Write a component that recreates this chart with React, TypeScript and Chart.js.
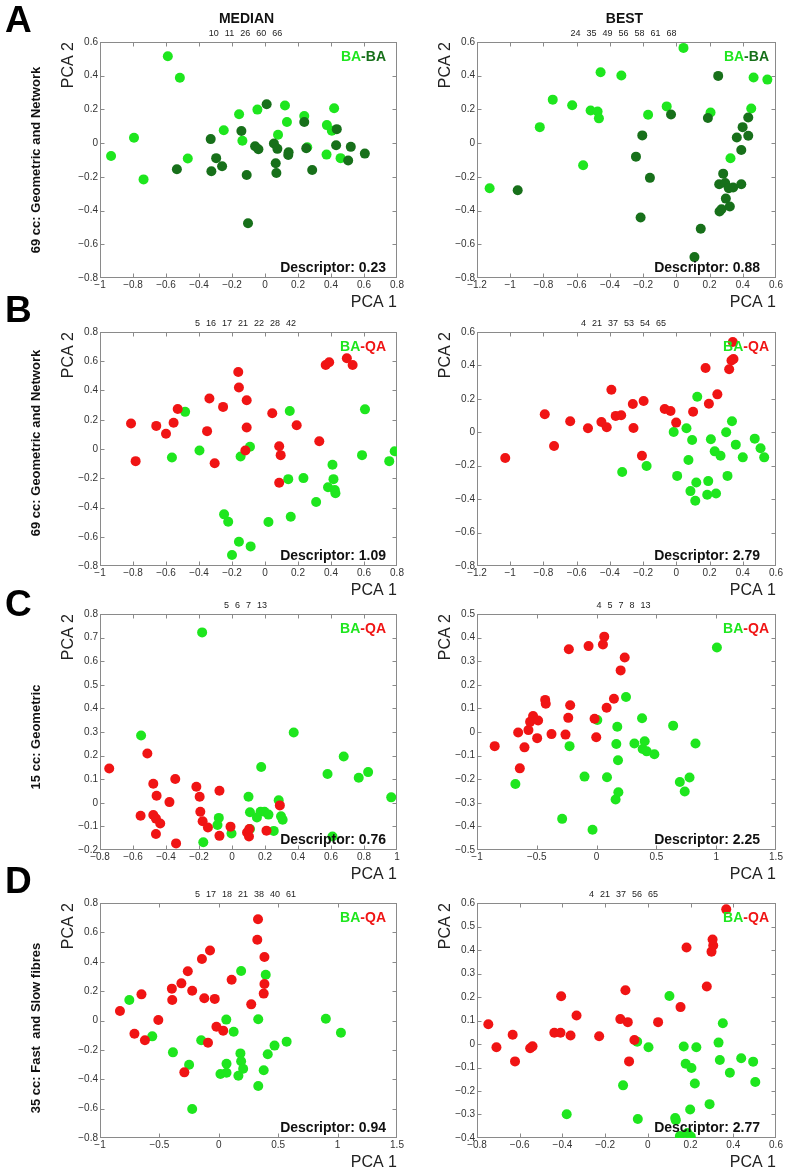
import React, { useEffect, useRef } from "react";
import { Chart, registerables } from "chart.js";
Chart.register(...registerables);

type P = [number, number];

const FONT = "'Liberation Sans', Arial, Helvetica, sans-serif";
Chart.defaults.font.family = FONT;

const LIME = "#1ee61e";
const DARK = "#17701a";
const RED = "#f01414";

// ---------- DATA ----------
// Row A (69 cc: Geometric and Network) – BA vs BA
const A_MED_LIGHT: P[] = [[-0.933,-0.076],[-0.794,0.032],[-0.736,-0.215],[-0.589,0.515],[-0.516,0.388],[-0.468,-0.091],[-0.25,0.076],[-0.157,0.171],[-0.137,0.014],[-0.046,0.199],[0.079,0.05],[0.121,0.223],[0.133,0.125],[0.238,0.161],[0.256,-0.024],[0.375,0.107],[0.373,-0.068],[0.419,0.207],[0.405,0.074],[0.458,-0.089]];
const A_MED_DARK: P[] = [[-0.534,-0.155],[-0.329,0.024],[-0.325,-0.167],[-0.296,-0.089],[-0.26,-0.137],[-0.143,0.072],[-0.111,-0.189],[-0.103,-0.475],[-0.06,-0.018],[-0.04,-0.036],[0.01,0.231],[0.054,-0.002],[0.075,-0.034],[0.065,-0.119],[0.069,-0.177],[0.143,-0.054],[0.141,-0.07],[0.238,0.125],[0.25,-0.03],[0.286,-0.159],[0.435,0.083],[0.431,-0.012],[0.52,-0.022],[0.504,-0.103],[0.605,-0.062]];
const A_BEST_LIGHT: P[] = [[-1.124,-0.268],[-0.822,0.095],[-0.744,0.258],[-0.627,0.225],[-0.561,-0.131],[-0.516,0.194],[-0.474,0.188],[-0.466,0.147],[-0.456,0.421],[-0.331,0.401],[-0.17,0.168],[-0.058,0.218],[0.043,0.565],[0.206,0.182],[0.326,-0.09],[0.451,0.206],[0.465,0.389],[0.548,0.377]];
const A_BEST_DARK: P[] = [[-0.955,-0.279],[-0.243,-0.08],[-0.205,0.046],[-0.159,-0.206],[-0.215,-0.441],[-0.032,0.17],[0.109,-0.676],[0.147,-0.508],[0.19,0.149],[0.252,0.399],[0.258,-0.244],[0.26,-0.405],[0.272,-0.392],[0.282,-0.181],[0.294,-0.236],[0.298,-0.329],[0.316,-0.267],[0.322,-0.376],[0.342,-0.263],[0.364,0.034],[0.391,-0.041],[0.391,-0.244],[0.399,0.095],[0.433,0.152],[0.433,0.044]];

// Row B (69 cc: Geometric and Network) – BA vs QA
const B_MED_RED: P[] = [[-0.812,0.174],[-0.784,-0.083],[-0.659,0.158],[-0.6,0.104],[-0.554,0.179],[-0.529,0.274],[-0.351,0.122],[-0.337,0.345],[-0.305,-0.097],[-0.254,0.288],[-0.162,0.527],[-0.158,0.42],[-0.111,0.333],[-0.111,0.147],[-0.119,-0.01],[0.044,0.245],[0.086,0.019],[0.095,-0.042],[0.086,-0.231],[0.192,0.163],[0.329,0.053],[0.368,0.574],[0.389,0.593],[0.496,0.62],[0.531,0.574]];
const B_MED_GREEN: P[] = [[-0.564,-0.058],[-0.484,0.254],[-0.397,-0.01],[-0.248,-0.447],[-0.223,-0.497],[-0.2,-0.725],[-0.158,-0.634],[-0.148,-0.051],[-0.091,0.015],[-0.087,-0.666],[0.021,-0.499],[0.141,-0.206],[0.15,0.26],[0.156,-0.463],[0.233,-0.199],[0.31,-0.363],[0.382,-0.261],[0.409,-0.108],[0.415,-0.206],[0.423,-0.281],[0.427,-0.302],[0.588,-0.042],[0.606,0.271],[0.753,-0.083],[0.786,-0.015]];
const B_BEST_RED: P[] = [[-1.03,-0.154],[-0.792,0.108],[-0.736,-0.082],[-0.639,0.066],[-0.532,0.024],[-0.451,0.062],[-0.419,0.03],[-0.391,0.255],[-0.365,0.098],[-0.332,0.102],[-0.262,0.169],[-0.258,0.026],[-0.207,-0.14],[-0.197,0.187],[-0.07,0.139],[-0.035,0.127],[-0.001,0.058],[0.101,0.123],[0.176,0.385],[0.196,0.171],[0.247,0.227],[0.318,0.377],[0.332,0.43],[0.344,0.438],[0.34,0.54]];
const B_BEST_GREEN: P[] = [[-0.326,-0.238],[-0.179,-0.202],[-0.016,0.002],[0.005,-0.261],[0.061,0.024],[0.073,-0.166],[0.085,-0.352],[0.095,-0.046],[0.114,-0.41],[0.12,-0.3],[0.126,0.213],[0.186,-0.374],[0.192,-0.292],[0.208,-0.042],[0.231,-0.114],[0.239,-0.366],[0.266,-0.14],[0.3,0],[0.308,-0.261],[0.335,0.066],[0.358,-0.074],[0.4,-0.15],[0.472,-0.038],[0.507,-0.096],[0.529,-0.15]];

// Row C (15 cc: Geometric) – BA vs QA
const C_MED_RED: P[] = [[-0.744,0.145],[-0.554,-0.055],[-0.513,0.209],[-0.477,0.081],[-0.477,-0.052],[-0.461,-0.067],[-0.457,0.03],[-0.461,-0.132],[-0.435,-0.088],[-0.379,0.003],[-0.344,0.101],[-0.339,-0.172],[-0.216,0.068],[-0.196,0.026],[-0.192,-0.038],[-0.178,-0.078],[-0.146,-0.105],[-0.076,0.051],[-0.076,-0.14],[-0.009,-0.101],[0.091,-0.126],[0.103,-0.143],[0.105,-0.111],[0.209,-0.118],[0.29,-0.011]];
const C_MED_GREEN: P[] = [[-0.551,0.285],[-0.181,0.722],[-0.174,-0.167],[-0.088,-0.094],[-0.08,-0.064],[-0.003,-0.13],[0.1,0.026],[0.109,-0.04],[0.109,-0.111],[0.151,-0.062],[0.173,-0.038],[0.177,0.152],[0.197,-0.038],[0.221,-0.05],[0.253,-0.119],[0.283,0.011],[0.297,-0.057],[0.307,-0.072],[0.374,0.298],[0.579,0.122],[0.609,-0.143],[0.677,0.196],[0.768,0.106],[0.825,0.13],[0.965,0.023]];
const C_BEST_RED: P[] = [[-0.852,-0.06],[-0.656,-0.002],[-0.642,-0.154],[-0.603,-0.065],[-0.57,0.008],[-0.556,0.043],[-0.531,0.068],[-0.497,-0.026],[-0.489,0.049],[-0.43,0.136],[-0.425,0.12],[-0.377,-0.009],[-0.26,-0.011],[-0.237,0.06],[-0.232,0.351],[-0.221,0.113],[-0.067,0.364],[-0.017,0.056],[-0.003,-0.022],[0.053,0.371],[0.064,0.404],[0.084,0.103],[0.145,0.141],[0.201,0.261],[0.235,0.316]];
const C_BEST_GREEN: P[] = [[-0.679,-0.22],[-0.288,-0.368],[-0.226,-0.06],[-0.101,-0.189],[-0.034,-0.414],[0.006,0.051],[0.087,-0.192],[0.159,-0.286],[0.165,-0.051],[0.173,0.022],[0.179,-0.12],[0.182,-0.255],[0.246,0.148],[0.316,-0.049],[0.38,0.058],[0.385,-0.072],[0.402,-0.039],[0.419,-0.082],[0.483,-0.094],[0.64,0.027],[0.696,-0.212],[0.737,-0.252],[0.777,-0.193],[0.827,-0.049],[1.006,0.358]];

// Row D (35 cc: Fast and Slow fibres) – BA vs QA
const D_MED_RED: P[] = [[-0.832,0.065],[-0.71,-0.09],[-0.651,0.178],[-0.622,-0.135],[-0.509,0.003],[-0.395,0.217],[-0.392,0.14],[-0.315,0.253],[-0.29,-0.353],[-0.261,0.335],[-0.224,0.203],[-0.142,0.419],[-0.122,0.151],[-0.091,-0.151],[-0.074,0.476],[-0.034,0.147],[-0.02,-0.042],[0.037,-0.069],[0.108,0.278],[0.273,0.11],[0.324,0.55],[0.33,0.689],[0.378,0.183],[0.384,0.248],[0.384,0.432]];
const D_MED_GREEN: P[] = [[-0.753,0.14],[-0.56,-0.108],[-0.386,-0.217],[-0.25,-0.301],[-0.224,-0.603],[-0.148,-0.135],[0.014,-0.364],[0.063,0.006],[0.065,-0.294],[0.065,-0.356],[0.125,-0.076],[0.165,-0.376],[0.182,-0.224],[0.188,0.337],[0.188,-0.278],[0.205,-0.328],[0.332,0.008],[0.332,-0.446],[0.378,-0.339],[0.395,0.312],[0.412,-0.23],[0.469,-0.171],[0.571,-0.144],[0.901,0.012],[1.028,-0.083]];
const D_BEST_RED: P[] = [[-0.747,0.084],[-0.709,-0.014],[-0.633,0.039],[-0.622,-0.074],[-0.551,-0.018],[-0.54,-0.01],[-0.438,0.048],[-0.409,0.048],[-0.406,0.203],[-0.362,0.036],[-0.334,0.121],[-0.228,0.033],[-0.129,0.106],[-0.105,0.229],[-0.094,0.093],[-0.088,-0.074],[-0.063,0.017],[0.048,0.093],[0.153,0.157],[0.181,0.411],[0.276,0.245],[0.298,0.393],[0.306,0.419],[0.303,0.445],[0.367,0.573]];
const D_BEST_GREEN: P[] = [[-0.38,-0.299],[-0.116,-0.176],[-0.05,0.01],[-0.047,-0.319],[0.003,-0.014],[0.101,0.204],[0.128,-0.315],[0.131,-0.324],[0.15,-0.392],[0.168,-0.011],[0.177,-0.084],[0.185,-0.379],[0.198,-0.279],[0.201,-0.394],[0.204,-0.102],[0.22,-0.168],[0.227,-0.014],[0.289,-0.256],[0.331,0.006],[0.337,-0.068],[0.351,0.088],[0.384,-0.122],[0.437,-0.061],[0.493,-0.075],[0.503,-0.162]];

// Top-of-plot index labels
const A_MED_IDS = ["10", "11", "26", "60", "66"];
const A_BEST_IDS = ["24", "35", "49", "56", "58", "61", "68"];
const B_MED_IDS = ["5", "16", "17", "21", "22", "28", "42"];
const B_BEST_IDS = ["4", "21", "37", "53", "54", "65"];
const C_MED_IDS = ["5", "6", "7", "13"];
const C_BEST_IDS = ["4", "5", "7", "8", "13"];
const D_MED_IDS = ["5", "17", "18", "21", "38", "40", "61"];
const D_BEST_IDS = ["4", "21", "37", "56", "65"];

// Descriptor values
const DESCRIPTORS = ["0.23", "0.88", "1.09", "2.79", "0.76", "2.25", "0.94", "2.77"];

// Axis ranges [min, max, step]
const X_RANGES: [number, number, number][] = [
  [-1, 0.8, 0.2], [-1.2, 0.6, 0.2],
  [-1, 0.8, 0.2], [-1.2, 0.6, 0.2],
  [-0.8, 1, 0.2], [-1, 1.5, 0.5],
  [-1, 1.5, 0.5], [-0.8, 0.6, 0.2],
];
const Y_RANGES: [number, number, number][] = [
  [-0.8, 0.6, 0.2], [-0.8, 0.6, 0.2],
  [-0.8, 0.8, 0.2], [-0.8, 0.6, 0.2],
  [-0.2, 0.8, 0.1], [-0.5, 0.5, 0.1],
  [-0.8, 0.8, 0.2], [-0.4, 0.6, 0.1],
];

const ROW_LETTERS = ["A", "B", "C", "D"];
const ROW_TITLES = [
  "69 cc: Geometric and Network",
  "69 cc: Geometric and Network",
  "15 cc: Geometric",
  "35 cc: Fast  and Slow fibres",
];
const COL_TITLES = ["MEDIAN", "BEST"];

// ---------- LAYOUT ----------
const COLS = [{ left: 100, right: 397 }, { left: 477, right: 776 }];
const ROWS = [
  { top: 42, bottom: 278, letterTop: 1, titleCy: 160 },
  { top: 332, bottom: 566, letterTop: 291, titleCy: 443 },
  { top: 614, bottom: 850, letterTop: 585, titleCy: 737 },
  { top: 903, bottom: 1138, letterTop: 862, titleCy: 1028 },
];

type Series = { pts: P[]; color: string };
type PanelCfg = {
  row: number; col: number;
  series: Series[]; // index 0 drawn on top
  legend: [string, string][];
  ids: string[];
  desc: string;
  xr: [number, number, number];
  yr: [number, number, number];
};

const BA_BA: [string, string][] = [["BA", LIME], ["-BA", DARK]];
const BA_QA: [string, string][] = [["BA", LIME], ["-QA", RED]];

const PANELS: PanelCfg[] = [
  { row: 0, col: 0, series: [{ pts: A_MED_DARK, color: DARK }, { pts: A_MED_LIGHT, color: LIME }], legend: BA_BA, ids: A_MED_IDS, desc: DESCRIPTORS[0], xr: X_RANGES[0], yr: Y_RANGES[0] },
  { row: 0, col: 1, series: [{ pts: A_BEST_DARK, color: DARK }, { pts: A_BEST_LIGHT, color: LIME }], legend: BA_BA, ids: A_BEST_IDS, desc: DESCRIPTORS[1], xr: X_RANGES[1], yr: Y_RANGES[1] },
  { row: 1, col: 0, series: [{ pts: B_MED_RED, color: RED }, { pts: B_MED_GREEN, color: LIME }], legend: BA_QA, ids: B_MED_IDS, desc: DESCRIPTORS[2], xr: X_RANGES[2], yr: Y_RANGES[2] },
  { row: 1, col: 1, series: [{ pts: B_BEST_RED, color: RED }, { pts: B_BEST_GREEN, color: LIME }], legend: BA_QA, ids: B_BEST_IDS, desc: DESCRIPTORS[3], xr: X_RANGES[3], yr: Y_RANGES[3] },
  { row: 2, col: 0, series: [{ pts: C_MED_RED, color: RED }, { pts: C_MED_GREEN, color: LIME }], legend: BA_QA, ids: C_MED_IDS, desc: DESCRIPTORS[4], xr: X_RANGES[4], yr: Y_RANGES[4] },
  { row: 2, col: 1, series: [{ pts: C_BEST_RED, color: RED }, { pts: C_BEST_GREEN, color: LIME }], legend: BA_QA, ids: C_BEST_IDS, desc: DESCRIPTORS[5], xr: X_RANGES[5], yr: Y_RANGES[5] },
  { row: 3, col: 0, series: [{ pts: D_MED_RED, color: RED }, { pts: D_MED_GREEN, color: LIME }], legend: BA_QA, ids: D_MED_IDS, desc: DESCRIPTORS[6], xr: X_RANGES[6], yr: Y_RANGES[6] },
  { row: 3, col: 1, series: [{ pts: D_BEST_RED, color: RED }, { pts: D_BEST_GREEN, color: LIME }], legend: BA_QA, ids: D_BEST_IDS, desc: DESCRIPTORS[7], xr: X_RANGES[7], yr: Y_RANGES[7] },
];

const fmt = (v: number | string) => {
  const n = Math.round(Number(v) * 1000) / 1000;
  if (n === 0) return "0";
  return (n < 0 ? "\u2212" : "") + String(Math.abs(n));
};

const framePlugin = {
  id: "matlabFrame",
  beforeDatasetsDraw(chart: any) {
    const { ctx, chartArea } = chart;
    const xs = chart.scales.x;
    const ys = chart.scales.y;
    const L = Math.round(chartArea.left) + 0.5;
    const R = Math.round(chartArea.right) - 0.5;
    const T = Math.round(chartArea.top) + 0.5;
    const B = Math.round(chartArea.bottom) - 0.5;
    const tl = 4;
    ctx.save();
    ctx.strokeStyle = "#8a8a8a";
    ctx.lineWidth = 1;
    ctx.strokeRect(L, T, R - L, B - T);
    ctx.beginPath();
    for (const t of xs.ticks) {
      const p = Math.round(xs.getPixelForValue(t.value)) + 0.5;
      if (p <= L + 1 || p >= R - 1) continue;
      ctx.moveTo(p, B); ctx.lineTo(p, B - tl);
      ctx.moveTo(p, T); ctx.lineTo(p, T + tl);
    }
    for (const t of ys.ticks) {
      const p = Math.round(ys.getPixelForValue(t.value)) + 0.5;
      if (p <= T + 1 || p >= B - 1) continue;
      ctx.moveTo(L, p); ctx.lineTo(L + tl, p);
      ctx.moveTo(R, p); ctx.lineTo(R - tl, p);
    }
    ctx.stroke();
    ctx.restore();
  },
};

const PAD_L = 60, PAD_T = 30, PAD_R = 20, PAD_B = 40;

function Panel({ cfg }: { cfg: PanelCfg }) {
  const ref = useRef<HTMLCanvasElement>(null);
  const col = COLS[cfg.col];
  const row = ROWS[cfg.row];
  const w = col.right - col.left + PAD_L + PAD_R;
  const h = row.bottom - row.top + PAD_T + PAD_B;

  useEffect(() => {
    const chart = new Chart(ref.current as HTMLCanvasElement, {
      type: "scatter",
      data: {
        datasets: cfg.series.map((s) => ({
          data: s.pts.map(([x, y]) => ({ x, y })),
          backgroundColor: s.color,
          borderWidth: 0,
          pointRadius: 5,
          pointHoverRadius: 5,
        })),
      },
      options: {
        animation: false,
        responsive: false,
        events: [],
        layout: { padding: { top: PAD_T, right: PAD_R, left: 0, bottom: 0 } },
        plugins: { legend: { display: false }, tooltip: { enabled: false } },
        scales: {
          x: {
            type: "linear",
            min: cfg.xr[0],
            max: cfg.xr[1],
            ticks: { stepSize: cfg.xr[2], autoSkip: false, callback: fmt, font: { size: 10 }, color: "#333", padding: 1, maxRotation: 0 },
            grid: { display: false, drawTicks: false, tickLength: 0 },
            border: { display: false },
            title: { display: true, text: "PCA 1", align: "end", font: { size: 16 }, color: "#222", padding: { top: 0, bottom: 6 } },
            afterFit: (s: any) => { s.height = PAD_B; },
          },
          y: {
            type: "linear",
            position: "left",
            min: cfg.yr[0],
            max: cfg.yr[1],
            ticks: { stepSize: cfg.yr[2], autoSkip: false, callback: fmt, font: { size: 10 }, color: "#333", padding: 2 },
            grid: { display: false, drawTicks: false, tickLength: 0 },
            border: { display: false },
            title: { display: true, text: "PCA 2", align: "end", font: { size: 16 }, color: "#222", padding: { top: 19, bottom: 0 } },
            afterFit: (s: any) => { s.width = PAD_L; },
          },
        },
      } as any,
      plugins: [framePlugin],
    });
    return () => chart.destroy();
  }, []);

  const legendInset = cfg.col === 0 ? 11 : 7;
  const descInset = cfg.col === 0 ? 11 : 16;
  const cx = (col.left + col.right) / 2 - 3;

  return (
    <>
      <canvas
        ref={ref}
        width={w}
        height={h}
        style={{ position: "absolute", left: col.left - PAD_L, top: row.top - PAD_T, width: w, height: h }}
      />
      <div style={{ position: "absolute", left: cx - 120, width: 240, top: row.top - 15, height: 12, lineHeight: "12px", fontSize: 9, color: "#222", textAlign: "center", wordSpacing: "3.5px", whiteSpace: "pre" }}>
        {cfg.ids.join(" ")}
      </div>
      <div style={{ position: "absolute", left: col.right - legendInset - 150, width: 150, top: row.top + 14 - 9, height: 18, lineHeight: "18px", fontSize: 14, fontWeight: "bold", textAlign: "right", whiteSpace: "pre" }}>
        {cfg.legend.map(([t, c], i) => (
          <span key={i} style={{ color: c }}>{t}</span>
        ))}
      </div>
      <div style={{ position: "absolute", left: col.right - descInset - 200, width: 200, top: row.bottom - 11 - 9, height: 18, lineHeight: "18px", fontSize: 14, fontWeight: "bold", color: "#111", textAlign: "right", whiteSpace: "pre" }}>
        {"Descriptor: " + cfg.desc}
      </div>
    </>
  );
}

export default function App() {
  return (
    <div style={{ position: "absolute", left: 0, top: 0, width: 787, height: 1167, background: "#fff", fontFamily: FONT, overflow: "hidden" }}>
      {PANELS.map((p, i) => (
        <Panel key={i} cfg={p} />
      ))}
      {COL_TITLES.map((t, i) => (
        <div key={t} style={{ position: "absolute", left: (COLS[i].left + COLS[i].right) / 2 - 2 - 100, width: 200, top: 9, height: 18, lineHeight: "18px", fontSize: 14, fontWeight: "bold", color: "#111", textAlign: "center" }}>
          {t}
        </div>
      ))}
      {ROWS.map((r, i) => (
        <React.Fragment key={i}>
          <div style={{ position: "absolute", left: 5, top: r.letterTop, height: 37, lineHeight: "37px", fontSize: 37, fontWeight: "bold", color: "#000" }}>
            {ROW_LETTERS[i]}
          </div>
          <div style={{ position: "absolute", left: 35, top: r.titleCy, fontSize: 13, fontWeight: "bold", color: "#111", whiteSpace: "pre", lineHeight: "15px", transform: "translate(-50%, -50%) rotate(-90deg)" }}>
            {ROW_TITLES[i]}
          </div>
        </React.Fragment>
      ))}
    </div>
  );
}
